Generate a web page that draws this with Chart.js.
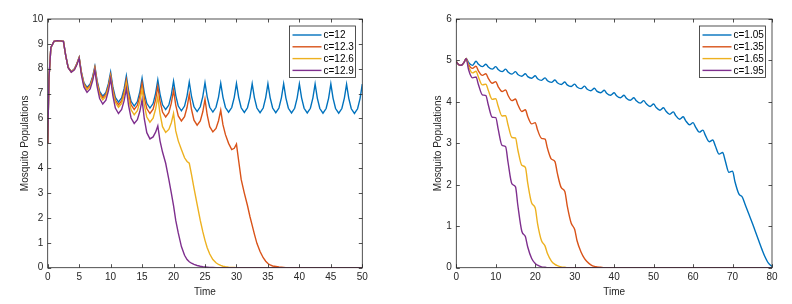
<!DOCTYPE html>
<html>
<head>
<meta charset="utf-8">
<script src="https://cdn.jsdelivr.net/npm/chart.js@4"></script>
<style>
body { margin: 0; background: #fff; width: 792px; height: 304px; overflow: hidden; position: relative; }
.panel { position: absolute; top: 0; width: 396px; height: 304px; }
</style>
</head>
<body>
<div class="panel" style="left:0"><canvas id="chart-left" width="396" height="304"></canvas></div>
<div class="panel" style="left:396px"><canvas id="chart-right" width="396" height="304"></canvas></div>
<script>
// left panel: time knots (6 per 2.5 period) and the four c series
const timeLeft = [0, 0.2, 0.5, 1, 1.5, 2, 2.5,
    2.85, 3.25, 3.75, 4.25, 4.65, 5,
    5.35, 5.75, 6.25, 6.75, 7.15, 7.5,
    7.85, 8.25, 8.75, 9.25, 9.65, 10,
    10.35, 10.75, 11.25, 11.75, 12.15, 12.5,
    12.85, 13.25, 13.75, 14.25, 14.65, 15,
    15.35, 15.75, 16.25, 16.75, 17.15, 17.5,
    17.85, 18.25, 18.75, 19.25, 19.65, 20,
    20.35, 20.75, 21.25, 21.75, 22.15, 22.5,
    22.85, 23.25, 23.75, 24.25, 24.65, 25,
    25.35, 25.75, 26.25, 26.75, 27.15, 27.5,
    27.85, 28.25, 28.75, 29.25, 29.65, 30,
    30.35, 30.75, 31.25, 31.75, 32.15, 32.5,
    32.85, 33.25, 33.75, 34.25, 34.65, 35,
    35.35, 35.75, 36.25, 36.75, 37.15, 37.5,
    37.85, 38.25, 38.75, 39.25, 39.65, 40,
    40.35, 40.75, 41.25, 41.75, 42.15, 42.5,
    42.85, 43.25, 43.75, 44.25, 44.65, 45,
    45.35, 45.75, 46.25, 46.75, 47.15, 47.5,
    47.85, 48.25, 48.75, 49.25, 49.65, 50];
const labelsLeft = ['c=12', 'c=12.3', 'c=12.6', 'c=12.9'];
const c12 = [5.0, 7.6, 8.85, 9.1, 9.13, 9.12, 9.1,
    8.55, 8.05, 7.88, 8.0, 8.22, 8.46,
    7.88, 7.44, 7.25, 7.39, 7.69, 8.1,
    7.52, 7.09, 6.9, 7.05, 7.4, 7.86,
    7.28, 6.85, 6.66, 6.83, 7.2, 7.71,
    7.13, 6.69, 6.5, 6.68, 7.08, 7.62,
    7.04, 6.61, 6.42, 6.6, 7.01, 7.55,
    6.98, 6.55, 6.36, 6.54, 6.95, 7.5,
    6.93, 6.5, 6.31, 6.5, 6.91, 7.47,
    6.9, 6.47, 6.28, 6.47, 6.88, 7.44,
    6.87, 6.45, 6.26, 6.45, 6.86, 7.42,
    6.86, 6.44, 6.25, 6.44, 6.85, 7.41,
    6.85, 6.43, 6.24, 6.43, 6.84, 7.4,
    6.84, 6.42, 6.23, 6.42, 6.84, 7.4,
    6.84, 6.42, 6.23, 6.42, 6.84, 7.4,
    6.83, 6.41, 6.22, 6.41, 6.83, 7.39,
    6.83, 6.41, 6.22, 6.41, 6.83, 7.39,
    6.82, 6.4, 6.21, 6.4, 6.82, 7.39,
    6.82, 6.4, 6.21, 6.4, 6.82, 7.38,
    6.81, 6.39, 6.2, 6.39, 6.81, 7.38];
const c12_3 = [5.0, 7.6, 8.85, 9.1, 9.13, 9.12, 9.1,
    8.55, 8.05, 7.87, 7.99, 8.21, 8.45,
    7.85, 7.4, 7.2, 7.34, 7.64, 8.05,
    7.46, 7.03, 6.83, 6.98, 7.31, 7.76,
    7.18, 6.74, 6.55, 6.71, 7.07, 7.56,
    6.98, 6.55, 6.36, 6.53, 6.91, 7.42,
    6.83, 6.4, 6.2, 6.37, 6.76, 7.29,
    6.7, 6.26, 6.06, 6.23, 6.62, 7.14,
    6.54, 6.1, 5.9, 6.07, 6.45, 6.97,
    6.37, 5.93, 5.73, 5.9, 6.27, 6.77,
    6.14, 5.67, 5.46, 5.6, 5.91, 6.33,
    5.75, 5.35, 5.0, 4.75, 4.8, 4.97,
    4.3, 3.55, 3.0, 2.5, 2.05, 1.7,
    1.35, 0.98, 0.65, 0.4, 0.26, 0.17,
    0.11, 0.07, 0.05, 0.03, 0.02, 0.01,
    0, 0, 0, 0, 0, 0,
    0, 0, 0, 0, 0, 0,
    0, 0, 0, 0, 0, 0,
    0, 0, 0, 0, 0, 0,
    0, 0, 0, 0, 0, 0];
const c12_6 = [5.0, 7.6, 8.85, 9.1, 9.13, 9.12, 9.1,
    8.55, 8.05, 7.87, 7.98, 8.2, 8.44,
    7.82, 7.36, 7.15, 7.29, 7.59, 8.0,
    7.4, 6.95, 6.75, 6.9, 7.23, 7.68,
    7.09, 6.65, 6.45, 6.61, 6.95, 7.42,
    6.81, 6.35, 6.15, 6.31, 6.68, 7.18,
    6.54, 6.06, 5.85, 6.01, 6.38, 6.88,
    6.19, 5.67, 5.44, 5.56, 5.83, 6.2,
    5.5, 5.1, 4.75, 4.42, 4.27, 4.2,
    3.75, 3.2, 2.55, 1.9, 1.45, 1.1,
    0.8, 0.55, 0.33, 0.2, 0.13, 0.09,
    0.06, 0.04, 0.02, 0.01, 0.01, 0,
    0, 0, 0, 0, 0, 0,
    0, 0, 0, 0, 0, 0,
    0, 0, 0, 0, 0, 0,
    0, 0, 0, 0, 0, 0,
    0, 0, 0, 0, 0, 0,
    0, 0, 0, 0, 0, 0,
    0, 0, 0, 0, 0, 0,
    0, 0, 0, 0, 0, 0];
const c12_9 = [5.0, 7.6, 8.85, 9.1, 9.13, 9.12, 9.1,
    8.55, 8.04, 7.86, 7.96, 8.17, 8.42,
    7.76, 7.27, 7.05, 7.19, 7.52, 7.95,
    7.29, 6.8, 6.58, 6.74, 7.11, 7.6,
    6.93, 6.42, 6.2, 6.36, 6.72, 7.2,
    6.53, 6.02, 5.8, 5.95, 6.29, 6.75,
    5.99, 5.43, 5.18, 5.26, 5.45, 5.7,
    5.1, 4.65, 4.2, 3.55, 3.0, 2.5,
    1.9, 1.4, 0.85, 0.5, 0.33, 0.24,
    0.18, 0.13, 0.09, 0.06, 0.04, 0.03,
    0.02, 0.01, 0.01, 0, 0, 0,
    0, 0, 0, 0, 0, 0,
    0, 0, 0, 0, 0, 0,
    0, 0, 0, 0, 0, 0,
    0, 0, 0, 0, 0, 0,
    0, 0, 0, 0, 0, 0,
    0, 0, 0, 0, 0, 0,
    0, 0, 0, 0, 0, 0,
    0, 0, 0, 0, 0, 0,
    0, 0, 0, 0, 0, 0];

// right panel
const timeRight = [0, 0.5, 1, 1.5, 2, 2.5,
    3.1, 4.1, 5, 5.6, 6.6, 7.5, 8.1, 9.1, 10, 10.6, 11.6, 12.5,
    13.1, 14.1, 15, 15.6, 16.6, 17.5, 18.1, 19.1, 20, 20.6, 21.6, 22.5,
    23.1, 24.1, 25, 25.6, 26.6, 27.5, 28.1, 29.1, 30, 30.6, 31.6, 32.5,
    33.1, 34.1, 35, 35.6, 36.6, 37.5, 38.1, 39.1, 40, 40.6, 41.6, 42.5,
    43.1, 44.1, 45, 45.6, 46.6, 47.5, 48.1, 49.1, 50, 50.6, 51.6, 52.5,
    53.1, 54.1, 55, 55.6, 56.6, 57.5, 58.1, 59.1, 60, 60.6, 61.6, 62.5,
    63.1, 64.1, 65, 65.6, 66.6, 67.5, 68.1, 69.1, 70, 70.6, 71.6, 72.5,
    73.1, 74.1, 75, 75.6, 76.6, 77.5, 78.1, 79.1, 80];
const labelsRight = ['c=1.05', 'c=1.35', 'c=1.65', 'c=1.95'];
const c1_05 = [4.97, 4.91, 4.88, 4.9, 4.96, 5.05,
    4.95, 4.88, 4.98,
    4.91, 4.85, 4.91,
    4.84, 4.79, 4.85,
    4.78, 4.73, 4.79,
    4.72, 4.67, 4.73,
    4.66, 4.62, 4.68,
    4.61, 4.57, 4.63,
    4.56, 4.52, 4.58,
    4.51, 4.47, 4.53,
    4.46, 4.42, 4.48,
    4.41, 4.37, 4.43,
    4.36, 4.32, 4.38,
    4.31, 4.27, 4.33,
    4.26, 4.22, 4.28,
    4.21, 4.16, 4.22,
    4.15, 4.1, 4.16,
    4.09, 4.04, 4.1,
    4.03, 3.97, 4.03,
    3.96, 3.89, 3.95,
    3.87, 3.8, 3.86,
    3.78, 3.7, 3.76,
    3.67, 3.58, 3.64,
    3.55, 3.45, 3.5,
    3.4, 3.27, 3.32,
    3.2, 3.04, 3.08,
    2.95, 2.74, 2.78,
    2.6, 2.3, 2.33,
    2.08, 1.78, 1.7,
    1.55, 1.3, 1.08,
    0.92, 0.66, 0.43,
    0.29, 0.11, 0.03];
const c1_35 = [4.97, 4.91, 4.88, 4.9, 4.96, 5.05,
    4.9, 4.81, 4.86,
    4.75, 4.64, 4.68,
    4.57, 4.45, 4.49,
    4.37, 4.25, 4.29,
    4.16, 4.03, 4.07,
    3.93, 3.77, 3.81,
    3.65, 3.47, 3.5,
    3.32, 3.12, 3.1,
    2.88, 2.62, 2.56,
    2.28, 1.93, 1.84,
    1.5, 1.08, 0.92,
    0.65, 0.38, 0.22,
    0.15, 0.07, 0.03,
    0.02, 0.01, 0,
    0, 0, 0, 0, 0, 0, 0, 0, 0, 0, 0, 0, 0, 0, 0, 0, 0,
    0, 0, 0, 0, 0, 0, 0, 0, 0, 0, 0, 0, 0, 0, 0, 0, 0,
    0, 0, 0, 0, 0, 0, 0, 0, 0, 0, 0, 0, 0, 0, 0, 0, 0];
const c1_65 = [4.97, 4.91, 4.88, 4.9, 4.96, 5.05,
    4.86, 4.7, 4.74,
    4.6, 4.41, 4.43,
    4.28, 4.06, 4.08,
    3.9, 3.66, 3.67,
    3.45, 3.14, 3.13,
    2.84, 2.47, 2.42,
    2.04, 1.56, 1.44,
    1.06, 0.65, 0.52,
    0.34, 0.16, 0.08,
    0.05, 0.02, 0.01,
    0, 0, 0, 0, 0, 0, 0, 0, 0, 0, 0, 0, 0, 0, 0, 0, 0, 0, 0, 0, 0,
    0, 0, 0, 0, 0, 0, 0, 0, 0, 0, 0, 0, 0, 0, 0, 0, 0, 0, 0, 0, 0,
    0, 0, 0, 0, 0, 0, 0, 0, 0, 0, 0, 0, 0, 0, 0, 0, 0, 0, 0, 0, 0];
const c1_95 = [4.97, 4.91, 4.88, 4.9, 4.96, 5.05,
    4.78, 4.58, 4.6,
    4.42, 4.17, 4.15,
    3.93, 3.63, 3.62,
    3.35, 2.95, 2.92,
    2.55, 2.02, 1.95,
    1.5, 0.88, 0.75,
    0.5, 0.22, 0.1,
    0.06, 0.02, 0.01,
    0, 0, 0, 0, 0, 0, 0, 0, 0, 0, 0, 0, 0, 0, 0, 0, 0, 0, 0, 0, 0, 0, 0,
    0, 0, 0, 0, 0, 0, 0, 0, 0, 0, 0, 0, 0, 0, 0, 0, 0, 0, 0, 0, 0, 0, 0,
    0, 0, 0, 0, 0, 0, 0, 0, 0, 0, 0, 0, 0, 0, 0, 0, 0, 0, 0, 0, 0, 0, 0];

const colors = ['#0072BD', '#D95319', '#EDB120', '#7E2F8E'];
const FONT = "'Liberation Sans', Arial, sans-serif";
const INK = '#262626';

// box round the axes, inward ticks on all four sides, matlab-like legend
const frame = {
    id: 'frame',
    afterDraw(chart, args, opts) {
        const ctx = chart.ctx;
        const a = chart.chartArea;
        const x = chart.scales.x;
        const y = chart.scales.y;
        ctx.save();
        ctx.strokeStyle = INK;
        ctx.lineWidth = 0.8;
        ctx.strokeRect(a.left, a.top, a.right - a.left, a.bottom - a.top);
        ctx.beginPath();
        x.ticks.forEach(t => {
            const px = Math.round(x.getPixelForValue(t.value)) + 0.5;
            ctx.moveTo(px, a.bottom); ctx.lineTo(px, a.bottom - 3.5);
            ctx.moveTo(px, a.top); ctx.lineTo(px, a.top + 3.5);
        });
        y.ticks.forEach(t => {
            const py = Math.round(y.getPixelForValue(t.value)) + 0.5;
            ctx.moveTo(a.left, py); ctx.lineTo(a.left + 3.5, py);
            ctx.moveTo(a.right, py); ctx.lineTo(a.right - 3.5, py);
        });
        ctx.stroke();

        // legend
        const lx = opts.x, ly = opts.y, w = opts.w, h = opts.h;
        ctx.fillStyle = '#fff';
        ctx.fillRect(lx, ly, w, h);
        ctx.strokeStyle = INK;
        ctx.lineWidth = 0.8;
        ctx.strokeRect(lx, ly, w, h);
        ctx.font = '10px ' + FONT;
        ctx.textBaseline = 'middle';
        ctx.textAlign = 'left';
        chart.data.datasets.forEach((ds, i) => {
            const ry = ly + 9 + i * 11.8;
            ctx.strokeStyle = ds.borderColor;
            ctx.lineWidth = 1.4;
            ctx.beginPath();
            ctx.moveTo(lx + 3, ry); ctx.lineTo(lx + 32, ry);
            ctx.stroke();
            ctx.fillStyle = '#000';
            ctx.fillText(ds.label, lx + 34, ry + 0.5);
        });
        ctx.restore();
    }
};

function makeDatasets(times, labels, series, smooth) {
    return series.map((vals, i) => ({
        label: labels[i],
        data: vals.map((v, k) => ({x: times[k], y: v})),
        borderColor: colors[i],
        borderWidth: 1.4,
        pointRadius: 0,
        tension: 0,
        cubicInterpolationMode: smooth ? 'monotone' : 'default',
        fill: false,
        order: 4 - i
    }));
}

function makeChart(id, datasets, p) {
    return new Chart(document.getElementById(id), {
        type: 'line',
        data: {datasets: datasets},
        options: {
            responsive: false,
            animation: false,
            devicePixelRatio: 1,
            layout: {padding: {left: 0, right: p.padRight, top: 19, bottom: 0}},
            plugins: {
                legend: {display: false},
                tooltip: {enabled: false},
                frame: p.legend
            },
            scales: {
                x: {
                    type: 'linear',
                    min: 0, max: p.xMax,
                    grid: {display: false, drawTicks: false},
                    border: {display: false},
                    ticks: {stepSize: p.xStep, color: INK, font: {family: FONT, size: 10}, padding: 4, maxRotation: 0},
                    title: {display: true, text: 'Time', color: INK, font: {family: FONT, size: 10}, padding: {top: 0, bottom: 5.3}},
                    afterFit(s) { s.height = 36.3; }
                },
                y: {
                    type: 'linear',
                    min: 0, max: p.yMax,
                    grid: {display: false, drawTicks: false},
                    border: {display: false},
                    ticks: {stepSize: 1, color: INK, font: {family: FONT, size: 10}, padding: p.tickPad},
                    title: {display: true, text: 'Mosquito Populations', color: INK, font: {family: FONT, size: 10}, padding: {top: p.titlePad, bottom: 0}},
                    afterFit(s) { s.width = p.yWidth; }
                }
            }
        },
        plugins: [frame]
    });
}

makeChart('chart-left', makeDatasets(timeLeft, labelsLeft, [c12, c12_3, c12_6, c12_9], false), {
    padRight: 33.7, xMax: 50, xStep: 5, yMax: 10, yWidth: 47.7, tickPad: 4.4, titlePad: 19,
    legend: {x: 289.5, y: 26, w: 66, h: 51.5}
});
makeChart('chart-right', makeDatasets(timeRight, labelsRight, [c1_05, c1_35, c1_65, c1_95], true), {
    padRight: 20, xMax: 80, xStep: 10, yMax: 6, yWidth: 60.3, tickPad: 4.6, titlePad: 36.3,
    legend: {x: 303.5, y: 26, w: 66, h: 51.5}
});
</script>
</body>
</html>
